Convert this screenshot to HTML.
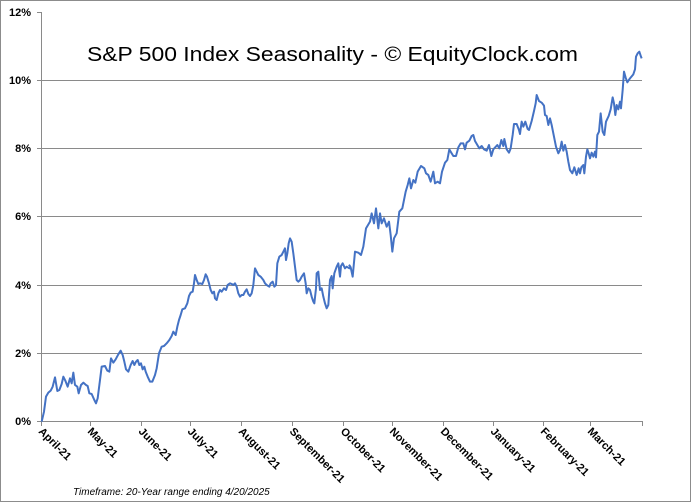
<!DOCTYPE html>
<html><head><style>body{margin:0;background:#fff}svg{display:block}</style></head>
<body>
<svg width="691" height="502" xmlns="http://www.w3.org/2000/svg" font-family="Liberation Sans, Arial, sans-serif">
<rect x="0.5" y="0.5" width="690" height="501" fill="#fff" stroke="#8c8c8c"/>
<g stroke="#8a8a8a" stroke-width="1">
<line x1="41" y1="80.5" x2="642" y2="80.5"/>
<line x1="41" y1="148.5" x2="642" y2="148.5"/>
<line x1="41" y1="216.5" x2="642" y2="216.5"/>
<line x1="41" y1="285.5" x2="642" y2="285.5"/>
<line x1="41" y1="353.5" x2="642" y2="353.5"/>
<line x1="41" y1="421.5" x2="642" y2="421.5"/>
<line x1="41.5" y1="12" x2="41.5" y2="421"/>
<line x1="37" y1="12.5" x2="41" y2="12.5"/><line x1="37" y1="80.5" x2="41" y2="80.5"/><line x1="37" y1="148.5" x2="41" y2="148.5"/><line x1="37" y1="216.5" x2="41" y2="216.5"/><line x1="37" y1="285.5" x2="41" y2="285.5"/><line x1="37" y1="353.5" x2="41" y2="353.5"/><line x1="37" y1="421.5" x2="41" y2="421.5"/>
<g>
<line x1="41.5" y1="421" x2="41.5" y2="426"/><line x1="90.5" y1="421" x2="90.5" y2="426"/><line x1="141.5" y1="421" x2="141.5" y2="426"/><line x1="190.5" y1="421" x2="190.5" y2="426"/><line x1="241.5" y1="421" x2="241.5" y2="426"/><line x1="292.5" y1="421" x2="292.5" y2="426"/><line x1="343.5" y1="421" x2="343.5" y2="426"/><line x1="392.5" y1="421" x2="392.5" y2="426"/><line x1="443.5" y1="421" x2="443.5" y2="426"/><line x1="493.5" y1="421" x2="493.5" y2="426"/><line x1="543.5" y1="421" x2="543.5" y2="426"/><line x1="590.5" y1="421" x2="590.5" y2="426"/><line x1="642.5" y1="421" x2="642.5" y2="426"/>
</g>
</g>
<g font-size="11" font-weight="bold" text-anchor="end" fill="#000">
<text x="31" y="16">12%</text><text x="31" y="84">10%</text><text x="31" y="152">8%</text><text x="31" y="220">6%</text><text x="31" y="289">4%</text><text x="31" y="357">2%</text><text x="31" y="425">0%</text>
</g>
<g font-size="11" font-weight="bold" fill="#000">
<text transform="translate(38,432) rotate(45)">April-21</text>
<text transform="translate(87,432) rotate(45)">May-21</text>
<text transform="translate(138,432) rotate(45)">June-21</text>
<text transform="translate(187,432) rotate(45)">July-21</text>
<text transform="translate(238,432) rotate(45)">August-21</text>
<text transform="translate(289,432) rotate(45)">September-21</text>
<text transform="translate(340,432) rotate(45)">October-21</text>
<text transform="translate(389,432) rotate(45)">November-21</text>
<text transform="translate(440,432) rotate(45)">December-21</text>
<text transform="translate(490,432) rotate(45)">January-21</text>
<text transform="translate(540,432) rotate(45)">February-21</text>
<text transform="translate(587,432) rotate(45)">March-21</text>
</g>
<text x="87" y="61" font-size="20" textLength="491" lengthAdjust="spacingAndGlyphs" fill="#000">S&amp;P 500 Index Seasonality - © EquityClock.com</text>
<text x="73" y="495" font-size="10" font-style="italic" fill="#000">Timeframe:  20-Year range ending 4/20/2025</text>
<g fill="none" stroke="#4472c4" stroke-width="2" stroke-linejoin="round">
<polyline vector-effect="non-scaling-stroke" transform="translate(0,230) scale(0.33333)" points="125,575 132,545 138,500 145,488 152,482 158,470 165,442 172,483 178,480 185,462 190,440 196,452 203,470 210,445 215,460 220,428 225,465 232,470 236,490 243,465 250,458 258,465 263,468 268,490 275,492 283,510 288,520 293,505 300,450 305,410 315,408 322,422 328,425 333,385 340,398 347,388 355,373 362,362 368,375 373,395 378,418 385,425 392,405 398,393 403,405 408,395 413,390 418,405 423,400 428,418 433,410 437,425 443,440 450,455 457,455 465,435 470,415 477,370 485,350 492,348 500,340 508,330 515,318 520,305 527,315 532,290 537,270 542,255 547,238 555,235 562,220 567,198 572,188 578,185 582,160 585,135 590,150 595,162 600,160 607,162 612,150 617,133 621,140 627,160 632,180 637,190 642,185 645,205 650,210 655,190 660,180 665,185 672,175 678,180 683,165 690,160 695,162 700,165 705,160 710,170 715,190 720,200 725,195 730,195 735,185 740,178 745,192 750,198 755,190 760,165 765,115 770,125 775,135 782,140 790,150 795,160 800,165 808,170 812,160 818,155 823,170 828,165 832,100 838,80 845,75 850,65 855,55 858,90 862,70 866,40 870,25 875,35 880,70 885,110 890,150 895,155 900,150 905,140 912,130 917,160 920,190 925,175 930,180 935,200 940,215 943,220 948,175 950,130 955,125 960,180 965,175 970,200 975,220 980,235 985,225 990,150 995,138 998,175 1003,130 1010,110 1015,100 1020,140 1023,108 1028,100 1035,115 1040,110 1048,115 1054,113"/>
<polyline vector-effect="non-scaling-stroke" transform="translate(340,60) scale(0.33333)" points="27,614 32,622 38,650 45,575 55,578 63,585 70,560 78,505 90,485 95,460 102,490 108,445 115,505 120,460 125,490 132,475 140,500 147,485 152,525 157,575 162,535 170,520 178,455 187,445 197,395 203,375 208,355 213,385 220,360 226,368 233,335 243,318 253,325 258,340 265,345 272,365 280,335 285,370 293,365 300,370 306,335 315,308 322,300 328,268 335,280 340,288 348,288 355,262 362,250 370,250 375,268 380,248 388,242 395,228 400,225 405,243 418,265 425,258 432,268 440,272 447,255 454,288 460,268 472,255 478,265 484,240 490,258 493,237 500,268 507,278 512,265 518,225 522,192 530,192 537,210 540,222 545,185 550,200 556,185 563,207 567,210 575,183 582,153 587,130 590,105 597,123 605,128 612,137 615,165 620,168 625,195 630,175 635,195 642,230 648,260 655,280 660,270 665,245 670,272 675,255 680,275 685,305 690,330 697,340 703,322 710,345 716,325 720,340 724,322 730,315 733,340 738,290 742,268 746,280 750,295 755,278 760,290 765,275 768,292 772,225 777,215 782,160 788,215 793,225 798,185 806,168 812,148 818,112 822,130 826,165 830,135 835,148 840,125 843,145 848,90 852,35 857,53 862,67 870,55 880,43 885,28 888,-10 893,-20 898,-25 903,-10 905,-5"/>
</g>
</svg>
</body></html>
